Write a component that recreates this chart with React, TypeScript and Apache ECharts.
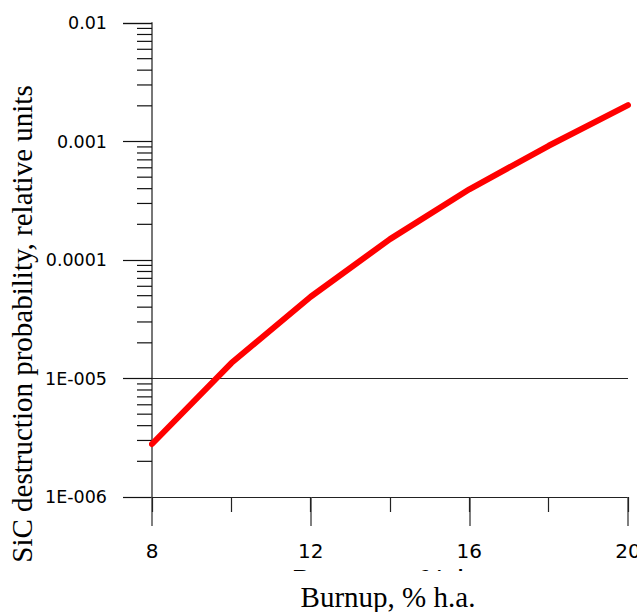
import React, { useEffect, useRef } from "react";
import * as echarts from "echarts";

const burnup = [8, 10, 12, 14, 16, 18, 20];
const probability = [2.8e-6, 1.35e-5, 4.9e-5, 1.5e-4, 3.95e-4, 9.2e-4, 2.03e-3];
const yTickLabels = ["1E-006", "1E-005", "0.0001", "0.001", "0.01"];
const xTickLabels = ["8", "12", "16", "20"];
const xRange = [8, 20];
const yRange = [1e-6, 1e-2];
const yMinorTicks: number[] = [];
for (const d of [1e-6, 1e-5, 1e-4, 1e-3]) {
  for (const m of [2, 3, 4, 5, 6, 7, 8, 9]) yMinorTicks.push(+(d * m).toPrecision(3));
}
const thresholdValue = 1e-5;

export default function App() {
  const ref = useRef<HTMLDivElement>(null);
  useEffect(() => {
    if (!ref.current) return;
    document.body.style.margin = "0";
    document.body.style.overflow = "hidden";
    const chart = echarts.init(ref.current, null, { renderer: "svg", width: 637, height: 612 });
    const labelFont = "DejaVu Sans";
    chart.setOption({
      animation: false,
      backgroundColor: "#fff",
      grid: {
        left: 152,
        right: 9,
        top: 23,
        bottom: 115,
        containLabel: false,
        outerBoundsMode: "none",
      },
      xAxis: [
        {
          type: "value",
          min: xRange[0],
          max: xRange[1],
          interval: 4,
          position: "bottom",
          axisLine: { show: true, onZero: false, lineStyle: { color: "#222", width: 1.2 } },
          axisTick: { show: true, inside: false, length: 29, lineStyle: { color: "#555", width: 1.5 } },
          axisLabel: {
            margin: 44,
            fontFamily: labelFont,
            fontSize: 20,
            color: "#000",
            formatter: (_v: number, i: number) => xTickLabels[i] ?? "",
          },
          splitLine: { show: false },
        },
        {
          type: "value",
          min: xRange[0],
          max: xRange[1],
          interval: 2,
          position: "bottom",
          axisLine: { show: false, onZero: false },
          axisTick: { show: true, inside: false, length: 15, lineStyle: { color: "#222", width: 1.2 } },
          axisLabel: { show: false },
          splitLine: { show: false },
        },
      ],
      yAxis: {
        type: "log",
        logBase: 10,
        min: yRange[0],
        max: yRange[1],
        axisLine: { show: true, onZero: false, lineStyle: { color: "#777", width: 2 } },
        axisTick: { show: true, inside: false, length: 29, lineStyle: { color: "#111", width: 1.2 } },
        axisLabel: {
          margin: 45,
          fontFamily: labelFont,
          fontSize: 17.5,
          color: "#000",
          formatter: (_v: number, i: number) => yTickLabels[i] ?? "",
        },
        splitLine: { show: false },
        minorTick: { show: false },
      },
      series: [
        {
          type: "custom",
          xAxisIndex: 0,
          clip: false,
          silent: true,
          data: [[xRange[0], thresholdValue, xRange[1]]],
          renderItem: (_params: any, api: any) => {
            const a = api.coord([api.value(0), api.value(1)]);
            const b = api.coord([api.value(2), api.value(1)]);
            return {
              type: "line",
              shape: { x1: a[0], y1: a[1], x2: b[0], y2: b[1] },
              style: { stroke: "#222", lineWidth: 1.2 },
            };
          },
          z: 2,
        },
        {
          type: "line",
          xAxisIndex: 0,
          data: burnup.map((b, i) => [b, probability[i]]),
          showSymbol: false,
          symbol: "none",
          lineStyle: { color: "#ff0000", width: 6, cap: "round", join: "round" },
          z: 5,
        },
        {
          type: "custom",
          xAxisIndex: 0,
          clip: false,
          silent: true,
          data: yMinorTicks.map((v) => [xRange[0], v]),
          renderItem: (_params: any, api: any) => {
            const p = api.coord([api.value(0), api.value(1)]);
            return {
              type: "line",
              shape: { x1: p[0] - 15, y1: p[1], x2: p[0], y2: p[1] },
              style: { stroke: "#111", lineWidth: 1.2 },
            };
          },
          z: 3,
        },
      ],
      graphic: [
        {
          type: "text",
          left: 291,
          top: 566,
          z: 1,
          style: {
            text: "Burnup, % h.a.",
            font: "30px 'DejaVu Sans'",
            fill: "#000",
          },
        },
        {
          type: "rect",
          shape: { x: 240, y: 571, width: 300, height: 41 },
          z: 2,
          style: { fill: "#fff" },
        },
        {
          type: "text",
          x: 388,
          y: 597,
          z: 3,
          style: {
            text: "Burnup, % h.a.",
            font: "29px 'Liberation Serif'",
            fill: "#000",
            align: "center",
            verticalAlign: "middle",
          },
        },
        {
          type: "text",
          x: 22,
          y: 324,
          rotation: Math.PI / 2,
          z: 3,
          style: {
            text: "SiC destruction probability, relative units",
            font: "29px 'Liberation Serif'",
            fill: "#000",
            align: "center",
            verticalAlign: "middle",
          },
        },
      ],
    });
    return () => chart.dispose();
  }, []);
  return <div ref={ref} style={{ width: 637, height: 612, position: "fixed", left: 0, top: 0 }} />;
}
